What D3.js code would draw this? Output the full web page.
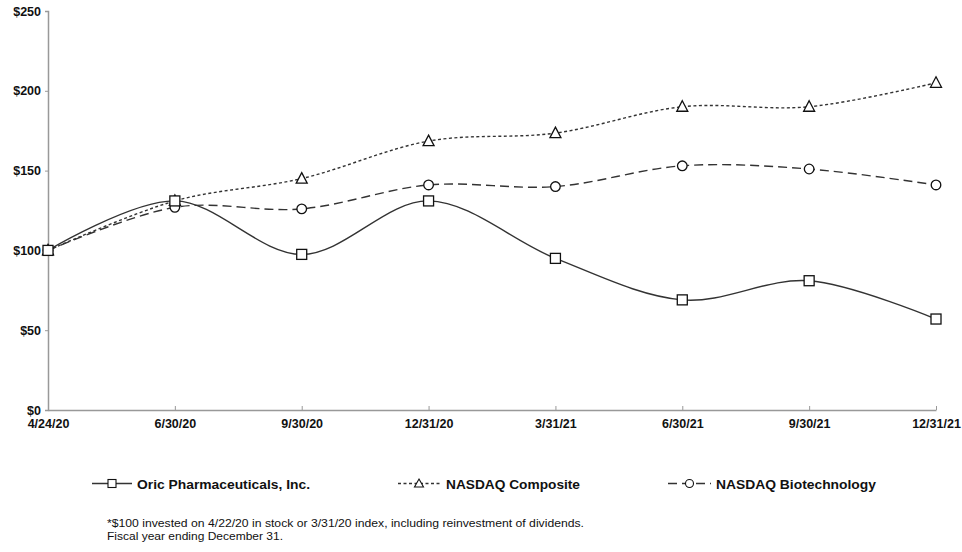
<!DOCTYPE html>
<html><head><meta charset="utf-8">
<script src="https://cdn.jsdelivr.net/npm/d3@7"></script>
<style>body{margin:0;background:#fff}svg{display:block}text{font-family:"Liberation Sans",Arial,sans-serif}</style>
</head><body>
<svg id="c" width="962" height="552"></svg>
<script>
const categories = ["4/24/20","6/30/20","9/30/20","12/31/20","3/31/21","6/30/21","9/30/21","12/31/21"];
const oric = [100, 131, 97.5, 131, 95, 69, 81, 57];
const nasdaqComposite = [100, 131, 145, 168.5, 173.5, 190, 190, 205];
const nasdaqBiotech = [100, 127, 126, 141, 140, 153, 151, 141];
const yTicks = [0, 50, 100, 150, 200, 250];
const seriesNames = ["Oric Pharmaceuticals, Inc.", "NASDAQ Composite", "NASDAQ Biotechnology"];

const svg = d3.select("#c");
const x = d3.scalePoint().domain(categories).range([48, 936]);
const y = d3.scaleLinear().domain([0, 250]).range([410, 11]);
const axisCol = "#999";
const lineCol = "#333";

// y axis
const ya = svg.append("g").attr("transform","translate(48,0)")
  .call(d3.axisLeft(y).tickValues(yTicks).tickSize(3).tickFormat(d => "$" + d));
ya.select(".domain").attr("stroke", axisCol).attr("stroke-width", 1.5);
ya.selectAll(".tick line").attr("stroke", axisCol);
ya.selectAll(".tick text").attr("font-size", 12.5).attr("font-weight", "bold").attr("fill", "#111").attr("x", -7);

// x axis
const xa = svg.append("g").attr("transform","translate(0,410)")
  .call(d3.axisBottom(x).tickSize(-4).tickSizeOuter(0));
xa.select(".domain").attr("stroke", axisCol).attr("stroke-width", 1.5);
xa.selectAll(".tick line").attr("stroke", axisCol);
xa.selectAll(".tick text").attr("font-size", 12.5).attr("font-weight", "bold").attr("fill", "#111").attr("y", 9);

const series = [
  {name: seriesNames[0], values: oric, dash: null, marker: "square"},
  {name: seriesNames[1], values: nasdaqComposite, dash: "3,2.5", marker: "triangle"},
  {name: seriesNames[2], values: nasdaqBiotech, dash: "9,5", marker: "circle"}
];

const line = d3.line().x((d,i) => x(categories[i])).y(d => y(d)).curve(d3.curveCardinal.tension(0));

function drawMarker(g, type, cx, cy) {
  if (type === "square") {
    g.append("rect").attr("x", cx-5).attr("y", cy-5).attr("width", 10).attr("height", 10)
      .attr("fill","#fff").attr("stroke","#111").attr("stroke-width",1.3);
  } else if (type === "triangle") {
    g.append("path").attr("d", `M${cx},${cy-6}L${cx+5.5},${cy+4.5}L${cx-5.5},${cy+4.5}Z`)
      .attr("fill","#fff").attr("stroke","#111").attr("stroke-width",1.3);
  } else {
    g.append("circle").attr("cx", cx).attr("cy", cy).attr("r", 4.8)
      .attr("fill","#fff").attr("stroke","#111").attr("stroke-width",1.3);
  }
}

// draw in reverse so Oric on top
[2,1,0].forEach(si => {
  const s = series[si];
  svg.append("path").attr("d", line(s.values)).attr("fill","none")
    .attr("stroke", lineCol).attr("stroke-width", 1.4)
    .attr("stroke-dasharray", s.dash);
});
[2,1,0].forEach(si => {
  const s = series[si];
  const g = svg.append("g");
  s.values.forEach((v,i) => drawMarker(g, s.marker, x(categories[i]), y(v)));
});

// legend
const legend = [
  {x0: 92, x1: 132, tx: 137, tw: 173},
  {x0: 398, x1: 440, tx: 446, tw: 134},
  {x0: 668, x1: 711, tx: 716, tw: 160}
];
const ly = 483.5;
series.forEach((s,i) => {
  const L = legend[i];
  const g = svg.append("g");
  g.append("line").attr("x1", L.x0).attr("x2", L.x1).attr("y1", ly).attr("y2", ly)
    .attr("stroke", lineCol).attr("stroke-width", 1.4).attr("stroke-dasharray", s.dash);
  const mx = (L.x0 + L.x1)/2;
  if (s.marker === "square") {
    g.append("rect").attr("x", mx-4).attr("y", ly-4).attr("width", 8).attr("height", 8).attr("fill","#fff").attr("stroke","#111").attr("stroke-width",1.1);
  } else if (s.marker === "triangle") {
    g.append("path").attr("d", `M${mx},${ly-4.5}L${mx+4.5},${ly+3.5}L${mx-4.5},${ly+3.5}Z`).attr("fill","#fff").attr("stroke","#111").attr("stroke-width",1.1);
  } else {
    g.append("circle").attr("cx", mx).attr("cy", ly).attr("r", 4).attr("fill","#fff").attr("stroke","#111").attr("stroke-width",1.1);
  }
  g.append("text").attr("x", L.tx).attr("y", ly+5).attr("font-size", 13.5).attr("font-weight","bold")
    .attr("fill","#111").attr("textLength", L.tw).attr("lengthAdjust","spacingAndGlyphs").text(s.name);
});

// footnote
svg.append("text").attr("x", 107).attr("y", 527).attr("font-size", 11).attr("fill","#111")
  .attr("textLength", 477).attr("lengthAdjust","spacingAndGlyphs")
  .text("*$100 invested on 4/22/20 in stock or 3/31/20 index, including reinvestment of dividends.");
svg.append("text").attr("x", 107).attr("y", 540).attr("font-size", 11).attr("fill","#111")
  .attr("textLength", 176).attr("lengthAdjust","spacingAndGlyphs")
  .text("Fiscal year ending December 31.");
</script>
</body></html>
